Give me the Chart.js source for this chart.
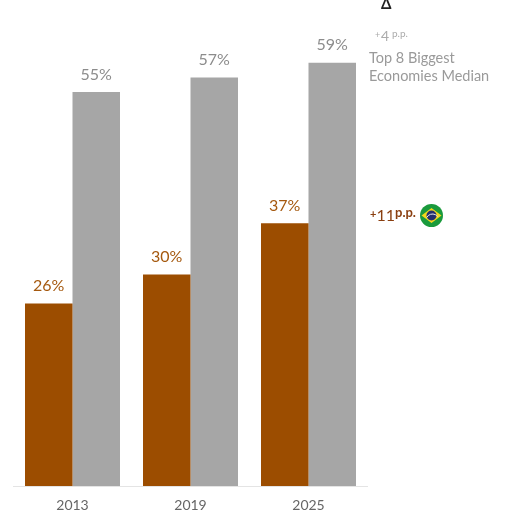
<!DOCTYPE html>
<html>
<head>
<meta charset="utf-8">
<title>Top 8 Biggest Economies Median vs Brazil</title>
<script src="https://cdn.jsdelivr.net/npm/chart.js@4"></script>
<style>
  html, body { margin: 0; padding: 0; background: #fff; }
  #wrap { position: relative; width: 506px; height: 518px; overflow: hidden; }
</style>
</head>
<body>
<div id="wrap"><canvas id="shareChart" width="506" height="518"></canvas></div>
<script>
var years = ["2013", "2019", "2025"];
var brazilShare = [26, 30, 37];
var medianShare = [55, 57, 59];
var yAxisMin = 1;
var yAxisMax = 59.8;

var fontName = "Lato, 'Open Sans', sans-serif";
var brown = "#9c4d00";
var gray = "#a6a6a6";

// value labels above each bar
var barLabels = {
  id: "barLabels",
  afterDatasetsDraw(chart) {
    var ctx = chart.ctx;
    ctx.save();
    ctx.font = "16px " + fontName;
    ctx.textAlign = "center";
    ctx.textBaseline = "alphabetic";
    chart.data.datasets.forEach((ds, i) => {
      ctx.fillStyle = i === 0 ? "#a5590f" : "#8c8c8c";
      chart.getDatasetMeta(i).data.forEach((bar, j) => {
        ctx.fillText(ds.data[j] + "%", bar.x, bar.y - 12.5);
      });
    });
    ctx.restore();
  }
};

// delta column on the right and the small flag
var sideNotes = {
  id: "sideNotes",
  afterDraw(chart) {
    var ctx = chart.ctx;
    ctx.save();
    ctx.textAlign = "left";
    ctx.textBaseline = "alphabetic";

    ctx.fillStyle = "#222";
    ctx.font = "bold 15px " + fontName;
    ctx.fillText("Δ", 381, 9);

    ctx.fillStyle = "#ababab";
    ctx.font = "9px " + fontName;
    ctx.fillText("+", 375, 38);
    ctx.font = "14px " + fontName;
    ctx.fillText("4", 381, 41);
    ctx.font = "10px " + fontName;
    ctx.fillText("p.p.", 392, 37);

    ctx.fillStyle = "#9a9a9a";
    ctx.font = "14.5px " + fontName;
    ctx.fillText("Top 8 Biggest", 369, 63);
    ctx.fillText("Economies Median", 369, 81);

    ctx.fillStyle = "#8a3f10";
    ctx.font = "bold 11px " + fontName;
    ctx.fillText("+", 370, 218);
    ctx.font = "16px " + fontName;
    ctx.fillText("11", 376.5, 221);
    ctx.font = "bold 13px " + fontName;
    ctx.fillText("p.p.", 395, 217);

    // Brazilian flag, round
    var cx = 431.5, cy = 215.5;
    ctx.fillStyle = "#1a9a3c";
    ctx.beginPath();
    ctx.arc(cx, cy, 11.5, 0, Math.PI * 2);
    ctx.fill();
    ctx.fillStyle = "#f4d81c";
    ctx.beginPath();
    ctx.moveTo(cx - 10, cy);
    ctx.lineTo(cx, cy - 7.5);
    ctx.lineTo(cx + 10, cy);
    ctx.lineTo(cx, cy + 7.5);
    ctx.closePath();
    ctx.fill();
    ctx.fillStyle = "#24306e";
    ctx.beginPath();
    ctx.arc(cx, cy, 5, 0, Math.PI * 2);
    ctx.fill();
    ctx.strokeStyle = "#e8e8e8";
    ctx.lineWidth = 1;
    ctx.beginPath();
    ctx.arc(cx + 1, cy + 5, 6.5, Math.PI * 1.15, Math.PI * 1.8);
    ctx.stroke();
    ctx.restore();
  }
};

new Chart(document.getElementById("shareChart").getContext("2d"), {
  type: "bar",
  data: {
    labels: years,
    datasets: [
      { label: "Brazil", data: brazilShare, backgroundColor: brown },
      { label: "Top 8 Biggest Economies Median", data: medianShare, backgroundColor: gray }
    ]
  },
  options: {
    responsive: false,
    animation: false,
    layout: { padding: { left: 13.5, right: 138.5, top: 57, bottom: 0 } },
    datasets: { bar: { categoryPercentage: 0.805, barPercentage: 1 } },
    plugins: {
      legend: { display: false },
      tooltip: { enabled: false }
    },
    scales: {
      x: {
        grid: { display: false },
        border: { color: "#e4e4e4", width: 1 },
        ticks: { color: "#666", font: { family: fontName, size: 14 }, padding: 3, maxRotation: 0 },
        afterFit: scale => { scale.height = 32; }
      },
      y: { display: false, min: yAxisMin, max: yAxisMax }
    }
  },
  plugins: [barLabels, sideNotes]
});
</script>
</body>
</html>
